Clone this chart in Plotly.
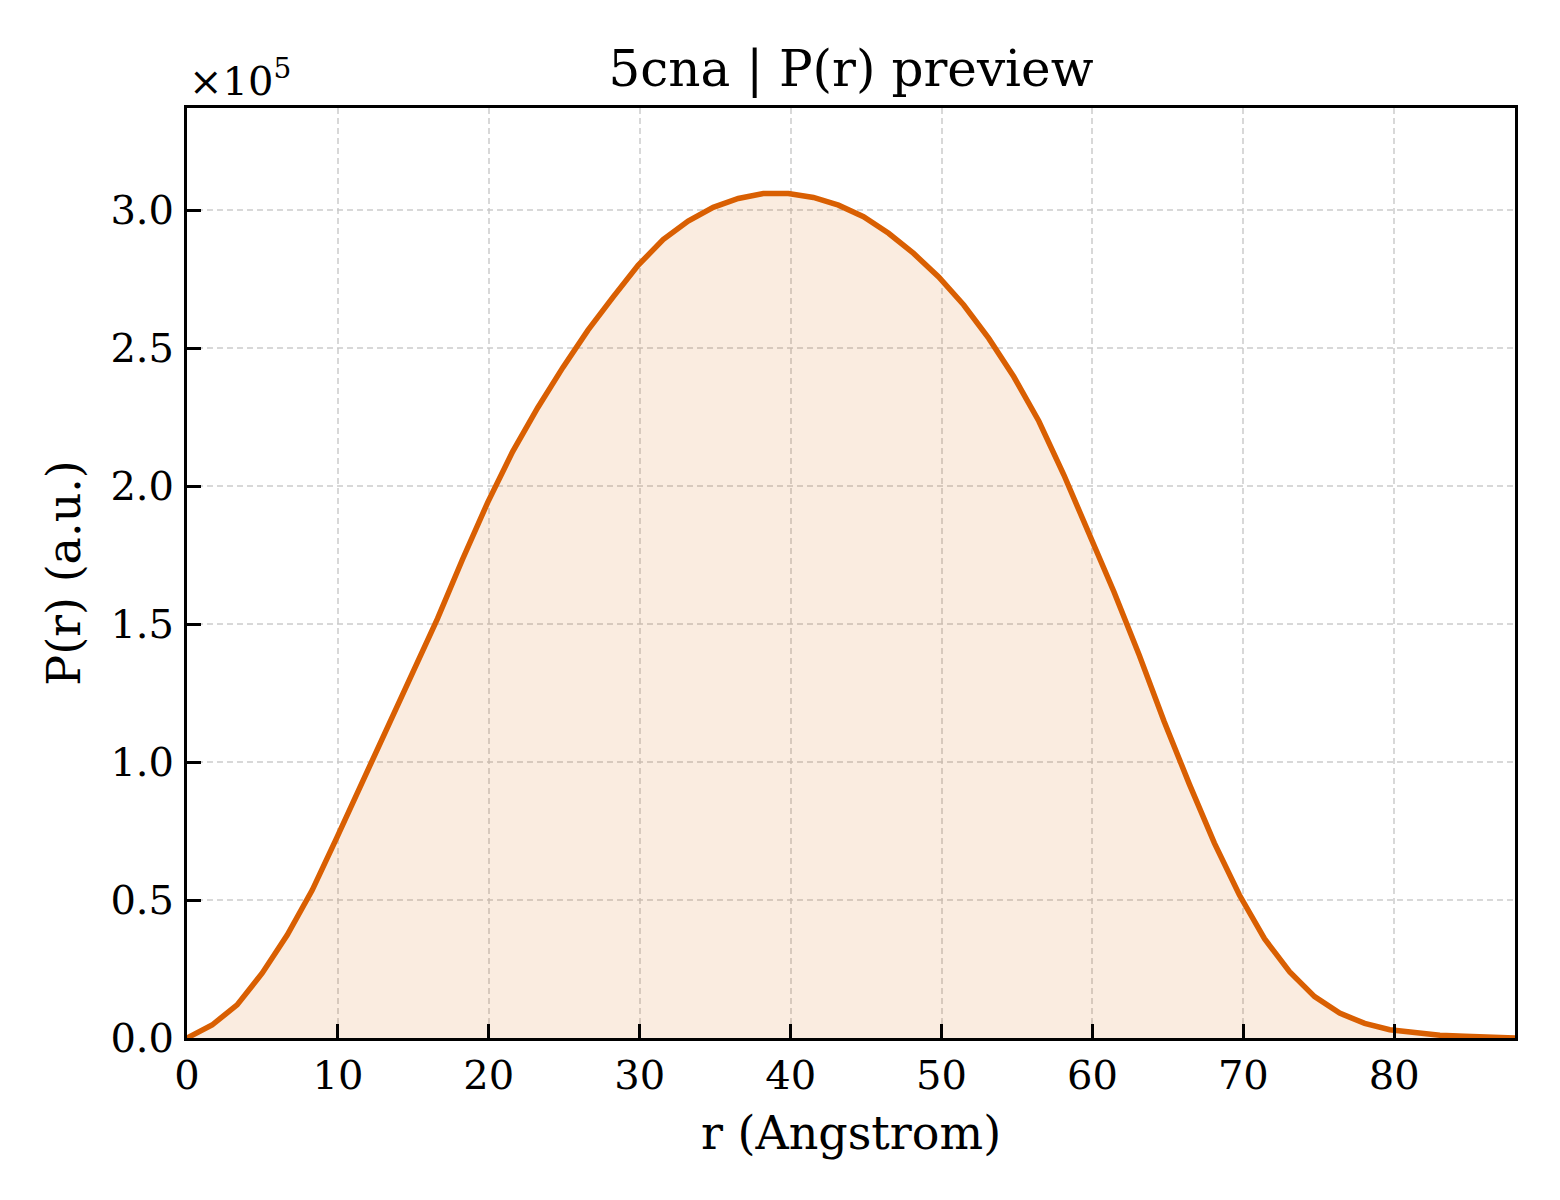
import plotly.graph_objects as go

# distancias r (Angstrom) y P(r)
r_vals = [0, 1.66, 3.32, 4.98, 6.64, 8.30, 9.96, 11.62, 13.28, 14.94,
          16.60, 18.26, 19.92, 21.58, 23.25, 24.91, 26.57, 28.23, 29.89, 31.55,
          33.21, 34.87, 36.53, 38.19, 39.85, 41.51, 43.17, 44.83, 46.49, 48.15,
          49.81, 51.47, 53.13, 54.79, 56.45, 58.11, 59.77, 61.43, 63.09, 64.75,
          66.42, 68.08, 69.74, 71.40, 73.06, 74.72, 76.38, 78.04, 79.70, 81.36,
          83.02, 84.68, 86.34, 88.00]
p_vals = [0, 4700, 12000, 23500, 37300, 53600, 73000, 92600, 112400, 132200,
          152000, 173500, 194000, 212500, 228500, 243000, 256500, 268500, 280000, 289300,
          296000, 301000, 304200, 306000, 306000, 304600, 301800, 297600, 291600, 284300,
          275800, 265600, 253500, 239600, 223500, 204000, 183000, 161600, 138900, 114700,
          92000, 70600, 51800, 36000, 24000, 15000, 9000, 5300, 3000, 1800,
          1000, 600, 300, 0]

x_ticks = [0, 10, 20, 30, 40, 50, 60, 70, 80]
y_ticks = [0, 50000, 100000, 150000, 200000, 250000, 300000]
y_ticktext = ['0.0', '0.5', '1.0', '1.5', '2.0', '2.5', '3.0']

fuente = 'DejaVu Serif'
color_linea = '#d95f02'

fig = go.Figure()
fig.add_trace(go.Scatter(
    x=r_vals, y=p_vals, mode='lines',
    line=dict(color=color_linea, width=5.5),
    fill='tozeroy', fillcolor='rgba(217,95,2,0.12)',
    showlegend=False
))

eje = dict(
    showline=True, linecolor='black', linewidth=3, mirror=True,
    ticks='inside', ticklen=14, tickwidth=3, tickcolor='black',
    showgrid=True, gridcolor='rgba(200,200,200,0.7)', gridwidth=1.5, griddash='6px,4px',
    zeroline=False,
    tickfont=dict(family=fuente, size=40, color='black'),
)

fig.update_xaxes(
    **eje, range=[0, 88], tickvals=x_ticks, ticklabelstandoff=0,
    title=dict(text='r (Angstrom)', font=dict(family=fuente, size=46, color='black'), standoff=20),
)
fig.update_yaxes(
    **eje, range=[0, 337000], tickvals=y_ticks, ticktext=y_ticktext, ticklabelstandoff=2,
    title=dict(text='P(r) (a.u.)', font=dict(family=fuente, size=46, color='black'), standoff=16),
)

# la pagina deja 8px de margen, por eso la figura es algo menor que la ventana
fig.update_layout(
    width=1552, height=1192,
    margin=dict(l=179, r=45, t=100, b=162),
    paper_bgcolor='white', plot_bgcolor='white',
    title=dict(text='5cna | P(r) preview', font=dict(family=fuente, size=50, color='black'),
               x=0.5, xref='paper', xanchor='center', y=1 - 60 / 1192, yref='container', yanchor='middle'),
    annotations=[dict(text='×10<sup>5</sup>', xref='paper', yref='paper', x=0, y=1,
                      xanchor='left', yanchor='bottom', yshift=2, showarrow=False,
                      font=dict(family=fuente, size=40, color='black'))],
)

fig.write_html('out.html')
